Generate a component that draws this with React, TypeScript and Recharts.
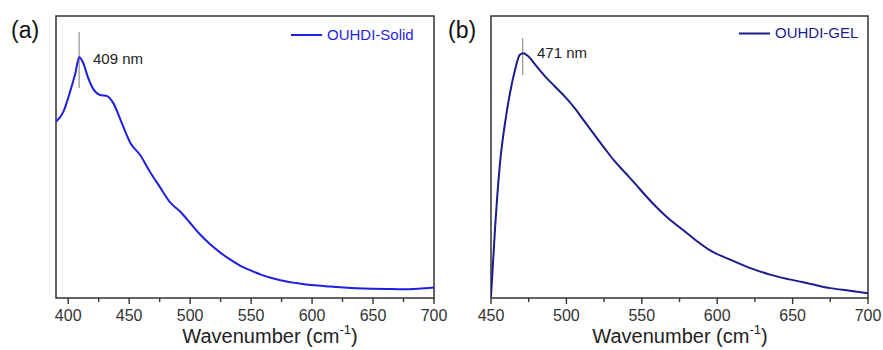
import { LineChart, Line, XAxis, YAxis, ReferenceArea, ReferenceLine } from "recharts";

// panel (a): OUHDI-Solid
const solidWave = [390, 396, 402, 406, 409, 412, 416, 421, 426, 432, 437, 444, 451, 459, 467, 475, 484, 492, 500, 508, 516, 525, 533, 541, 550, 558, 566, 574, 587, 599, 611, 623, 636, 649, 661, 674, 687, 700];
const solidIntensity = [62.5, 66, 73.8, 80, 85.4, 83.7, 78.5, 73.8, 72, 71.6, 69.1, 62, 55, 50.7, 44.8, 39.5, 33.7, 30.6, 26.6, 22.6, 19.2, 16, 13.6, 11.5, 9.7, 8.3, 7.2, 6.3, 5.3, 4.6, 4.2, 3.8, 3.5, 3.3, 3.2, 3.1, 3.3, 3.7];
const solidTicks = [400, 425, 450, 475, 500, 525, 550, 575, 600, 625, 650, 675, 700];

// panel (b): OUHDI-GEL
const gelWave = [450, 452.6, 456, 459.3, 462.6, 466, 469, 471.4, 474.5, 480, 486, 492, 499, 506, 512, 519, 526, 532, 539, 546, 552, 559, 566, 572, 579, 586, 595, 609, 622, 635, 648, 662, 675, 688, 700];
const gelIntensity = [0.5, 24, 48, 62, 72.7, 81, 86.2, 86.8, 85.8, 82.3, 78.5, 75.2, 71.4, 67, 62.6, 57.6, 52.6, 48.5, 44.4, 40.3, 36.6, 32.6, 29, 26.3, 23.4, 20.4, 17, 13.5, 10.6, 8.3, 6.6, 5, 3.5, 2.6, 1.7];
const gelTicks = [450, 475, 500, 525, 550, 575, 600, 625, 650, 675, 700];

const FONT = "Arial, 'Liberation Sans', sans-serif";
const INK = "#333";

const toRows = (xs: number[], ys: number[]) => xs.map((w, i) => ({ wave: w, value: ys[i] }));

const AxisTick = (props: any) => {
  const { x, y, payload } = props;
  const major = payload.value % 50 === 0;
  return (
    <g>
      <line x1={x} x2={x} y1={y} y2={y + (major ? 6 : 4)} stroke={INK} strokeWidth={1.4} />
      {major && (
        <text x={x} y={y + 23} textAnchor="middle" fontSize={16} fill={INK} fontFamily={FONT}>
          {payload.value}
        </text>
      )}
    </g>
  );
};

type PanelProps = {
  left: number;
  width: number;
  marginLeft: number;
  marginRight: number;
  rows: { wave: number; value: number }[];
  domain: [number, number];
  ticks: number[];
  color: string;
  peak: number;
  peakRange: [number, number];
};

function Panel(p: PanelProps) {
  return (
    <div style={{ position: "absolute", left: p.left, top: 0 }}>
      <LineChart
        width={p.width}
        height={350}
        data={p.rows}
        margin={{ top: 16, right: p.marginRight, left: p.marginLeft, bottom: 2 }}
      >
        <XAxis
          dataKey="wave"
          type="number"
          domain={p.domain}
          ticks={p.ticks}
          allowDataOverflow
          axisLine={false}
          tickLine={false}
          tickSize={0}
          tickMargin={0}
          height={50}
          tick={<AxisTick />}
          interval={0}
        />
        <YAxis hide domain={[0, 100]} type="number" />
        <ReferenceArea
          x1={p.domain[0]}
          x2={p.domain[1]}
          y1={0}
          y2={100}
          fill="none"
          fillOpacity={0}
          stroke={INK}
          strokeWidth={1.5}
        />
        <ReferenceLine
          segment={[
            { x: p.peak, y: p.peakRange[0] },
            { x: p.peak, y: p.peakRange[1] },
          ]}
          stroke="#999"
          strokeWidth={1.3}
        />
        <Line
          type="monotone"
          dataKey="value"
          stroke={p.color}
          strokeWidth={2}
          dot={false}
          isAnimationActive={false}
        />
      </LineChart>
    </div>
  );
}

export default function App() {
  return (
    <div
      style={{
        position: "absolute",
        left: 0,
        top: 0,
        width: 883,
        height: 350,
        background: "#fff",
        overflow: "hidden",
      }}
    >
      <Panel
        left={0}
        width={452}
        marginLeft={56}
        marginRight={18}
        rows={toRows(solidWave, solidIntensity)}
        domain={[390, 700]}
        ticks={solidTicks}
        color="#1f1fdf"
        peak={409}
        peakRange={[74.5, 94.3]}
      />
      <Panel
        left={440}
        width={443}
        marginLeft={51}
        marginRight={15}
        rows={toRows(gelWave, gelIntensity)}
        domain={[450, 700]}
        ticks={gelTicks}
        color="#1c1c8c"
        peak={471}
        peakRange={[79.1, 92.2]}
      />

      {/* labels, legends, axis titles */}
      <svg
        width={883}
        height={350}
        style={{ position: "absolute", left: 0, top: 0, pointerEvents: "none" }}
        fontFamily={FONT}
      >
        <text x={11} y={38} fontSize={23} fill="#111">(a)</text>
        <text x={448} y={38} fontSize={23} fill="#111">(b)</text>

        <text x={93} y={64} fontSize={15} fill="#222">409 nm</text>
        <text x={537} y={58} fontSize={15} fill="#222">471 nm</text>

        <line x1={291} x2={322} y1={35} y2={35} stroke="#1f1fdf" strokeWidth={2} />
        <text x={327} y={40} fontSize={15} fill="#1f1fdf">OUHDI-Solid</text>
        <line x1={739} x2={770} y1={33.5} y2={33.5} stroke="#1c1c8c" strokeWidth={2} />
        <text x={775} y={38} fontSize={15} fill="#1c1c8c">OUHDI-GEL</text>

        <text x={270} y={343} fontSize={20} fill="#222" textAnchor="middle">
          Wavenumber (cm<tspan fontSize={13} dy={-9}>-1</tspan><tspan dy={9}>)</tspan>
        </text>
        <text x={680} y={343} fontSize={20} fill="#222" textAnchor="middle">
          Wavenumber (cm<tspan fontSize={13} dy={-9}>-1</tspan><tspan dy={9}>)</tspan>
        </text>
      </svg>
    </div>
  );
}
